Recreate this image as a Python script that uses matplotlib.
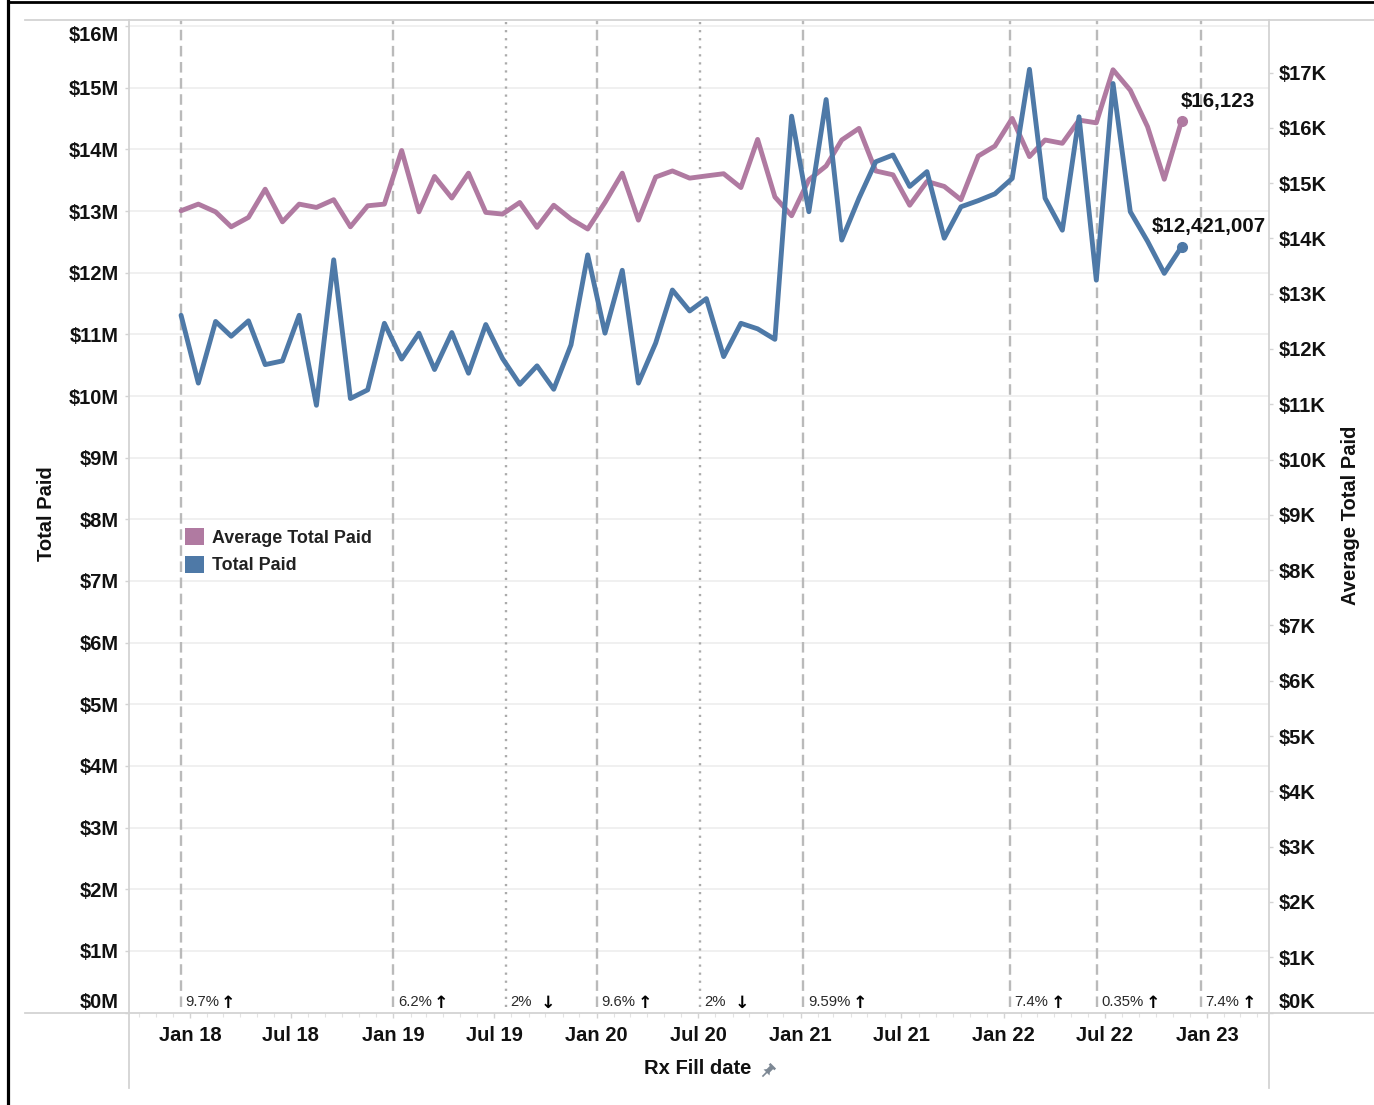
import matplotlib
matplotlib.use("Agg")
import matplotlib.pyplot as plt
import matplotlib.dates as mdates
from matplotlib.lines import Line2D
from matplotlib.patches import Patch, Polygon
from matplotlib.ticker import FixedLocator, FuncFormatter
import numpy as np
import pandas as pd

plt.rcParams["font.family"] = ["Liberation Sans", "DejaVu Sans"]
plt.rcParams["lines.scale_dashes"] = False

# ---------------------------------------------------------------- data
fill_months = pd.date_range("2017-12-01", "2022-11-01", freq="MS")

# Total Paid per month, $M
total_paid_m = [
    11.31, 10.21, 11.21, 10.97, 11.22, 10.51, 10.57, 11.31, 9.85, 12.21,
    9.96, 10.10, 11.18, 10.60, 11.02, 10.43, 11.03, 10.37, 11.16, 10.61,
    10.19, 10.49, 10.11, 10.83, 12.29, 11.02, 12.04, 10.21, 10.86, 11.72,
    11.38, 11.58, 10.64, 11.18, 11.09, 10.92, 14.54, 12.99, 14.81, 12.53,
    13.21, 13.80, 13.91, 13.40, 13.64, 12.56, 13.07, 13.17, 13.28, 13.53,
    15.30, 13.21, 12.69, 14.53, 11.88, 15.07, 12.99, 12.51, 11.99, 12.421007,
]

# Average Total Paid per month, $K
avg_paid_k = [
    14.50, 14.62, 14.48, 14.21, 14.38, 14.89, 14.30, 14.62, 14.56, 14.70,
    14.21, 14.59, 14.62, 15.59, 14.48, 15.12, 14.73, 15.18, 14.47, 14.44,
    14.65, 14.20, 14.60, 14.35, 14.17, 14.65, 15.18, 14.33, 15.11, 15.22,
    15.09, 15.13, 15.17, 14.92, 15.79, 14.75, 14.41, 15.06, 15.31, 15.78,
    15.99, 15.22, 15.15, 14.60, 15.03, 14.94, 14.70, 15.49, 15.67, 16.17,
    15.48, 15.78, 15.72, 16.14, 16.09, 17.05, 16.68, 16.02, 15.07, 16.123,
]

# period markers drawn as vertical reference lines
ref_dates = ["2017-12-15", "2019-01-01", "2019-07-22", "2020-01-01", "2020-07-05",
             "2021-01-06", "2022-01-12", "2022-06-17", "2022-12-21"]
ref_labels = ["9.7%", "6.2%", "2%", "9.6%", "2%", "9.59%", "7.4%", "0.35%", "7.4%"]
ref_dirs = ["up", "up", "down", "up", "down", "up", "up", "up", "up"]

x_tick_dates = pd.date_range("2018-01-01", "2023-01-01", freq="6MS")
left_ticks_m = list(range(0, 17))
right_ticks_k = list(range(0, 18))

# ---------------------------------------------------------------- layout
W, H = 1374, 1105
PT = 0.72  # points per pixel at 100 dpi


def fx(x):
    return x / W


def fy(y):
    return 1 - y / H


BLUE = "#4E79A7"
PINK = "#B07AA1"
FRAME = "#d3d3d3"
GRID = "#efefef"
REF = "#bababa"
TXT = "#111111"

fig = plt.figure(figsize=(W / 100, H / 100), dpi=100)
fig.patch.set_facecolor("white")

ax_l, ax_r, ax_t, ax_b = 128.7, 1269.0, 20.0, 1012.5
ax = fig.add_axes([fx(ax_l), fy(ax_b), (ax_r - ax_l) / W, (ax_b - ax_t) / H])
ax2 = ax.twinx()

# monthly points sit at mid-month on a day-based axis
x = mdates.date2num(fill_months + pd.Timedelta(days=15))
total_paid = np.array(total_paid_m) * 1e6
avg_paid = np.array(avg_paid_k) * 1e3

ax.set_xlim(mdates.date2num(pd.Timestamp("2017-09-13")),
            mdates.date2num(pd.Timestamp("2023-04-22")))
ax.set_ylim(0, 16.1e6)
ax2.set_ylim(0, 17.95e3)

for a in (ax, ax2):
    for s in a.spines.values():
        s.set_visible(False)
ax.patch.set_visible(False)

# horizontal gridlines for the left scale
for v in left_ticks_m:
    if v == 0:
        continue
    ax.axhline(v * 1e6, color=GRID, lw=1.3, zorder=0.5)

# reference lines and their change labels
xform = ax.get_xaxis_transform()
ymin_ref = (ax_b - 1007) / (ax_b - ax_t)
for d, lab, dr in zip(ref_dates, ref_labels, ref_dirs):
    dt = mdates.date2num(pd.Timestamp(d))
    if dr == "down":
        ls = (0, (1.6, 4.2))
        col = "#ababab"
    else:
        ls = (0, (7.6, 4.0))
        col = REF
    ax.axvline(dt, ymin=ymin_ref, ymax=1, color=col, lw=1.7, ls=ls, zorder=1)
    t = ax.annotate(lab, xy=(dt, 0), xycoords=xform,
                    xytext=(4.5 * PT, 10.8 * PT), textcoords="offset points",
                    ha="left", va="center", fontsize=10.7, color="#2a2a2a")
    gap = 6 if dr == "down" else 1.5
    ax.annotate("\u2191" if dr == "up" else "\u2193", xy=(1, 0.5), xycoords=t,
                xytext=(gap, -1.2), textcoords="offset points",
                ha="left", va="center", fontsize=12.5, fontweight="bold",
                color="black", family=["DejaVu Sans"])

# the two series; the average uses the right-hand scale
ax.plot(x, avg_paid, color=PINK, lw=3.5, solid_joinstyle="round",
        solid_capstyle="round", transform=ax2.transData, zorder=2)
ax.plot(x, total_paid, color=BLUE, lw=3.5, solid_joinstyle="round",
        solid_capstyle="round", zorder=3)
ax.plot(x[-1:], avg_paid[-1:], "o", color=PINK, ms=7, transform=ax2.transData, zorder=4)
ax.plot(x[-1:], total_paid[-1:], "o", color=BLUE, ms=7, zorder=4)

ax.annotate(f"${avg_paid[-1]:,.0f}", xy=(x[-1], avg_paid[-1]), xycoords=ax2.transData,
            xytext=(-1 * PT, 20 * PT), textcoords="offset points",
            ha="left", va="center", fontsize=14.8, fontweight="bold", color=TXT, zorder=5)
ax.annotate(f"${total_paid[-1]:,.0f}", xy=(x[-1], total_paid[-1]),
            xytext=(27 * PT, 20.5 * PT), textcoords="offset points",
            ha="center", va="center", fontsize=14.8, fontweight="bold", color=TXT, zorder=5)

# x axis
ax.xaxis.set_major_locator(FixedLocator(mdates.date2num(x_tick_dates)))
ax.xaxis.set_major_formatter(mdates.DateFormatter("%b %y"))
ax.xaxis.set_minor_locator(mdates.MonthLocator())
ax.tick_params(axis="x", which="major", length=5 * PT, width=1, color=FRAME,
               pad=6.3, labelsize=14.5, labelcolor=TXT)
ax.tick_params(axis="x", which="minor", length=4 * PT, width=0.8, color="#e3e3e3")
for lbl in ax.get_xticklabels():
    lbl.set_fontweight("bold")

# left axis
ax.yaxis.set_major_locator(FixedLocator([v * 1e6 for v in left_ticks_m]))
ax.yaxis.set_major_formatter(FuncFormatter(lambda v, p: f"${v / 1e6:.0f}M"))
ax.tick_params(axis="y", length=4 * PT, width=1, color=FRAME, pad=4.4,
               labelsize=14.5, labelcolor=TXT)
for lbl in ax.get_yticklabels():
    lbl.set_fontweight("bold")
    lbl.set_verticalalignment("center_baseline")
yt = ax.yaxis.get_major_ticks()
yt[0].label1.set_verticalalignment("bottom")
yt[-1].label1.set_verticalalignment("top")

# right axis
ax2.yaxis.set_major_locator(FixedLocator([v * 1e3 for v in right_ticks_k]))
ax2.yaxis.set_major_formatter(FuncFormatter(lambda v, p: f"${v / 1e3:.0f}K"))
ax2.tick_params(axis="y", length=4 * PT, width=1, color=FRAME, pad=4.4,
                labelsize=14.5, labelcolor=TXT)
for lbl in ax2.get_yticklabels():
    lbl.set_fontweight("bold")
    lbl.set_verticalalignment("center_baseline")
ax2.yaxis.get_major_ticks()[0].label2.set_verticalalignment("bottom")

# frame lines around the pane
frame_kw = dict(color=FRAME, lw=1.3, transform=fig.transFigure)
fig.add_artist(Line2D([fx(25), 1], [fy(ax_t), fy(ax_t)], **frame_kw))
fig.add_artist(Line2D([fx(25), 1], [fy(ax_b), fy(ax_b)], **frame_kw))
fig.add_artist(Line2D([fx(ax_l), fx(ax_l)], [fy(ax_t), fy(1088)], **frame_kw))
fig.add_artist(Line2D([fx(ax_r), fx(ax_r)], [fy(ax_t), fy(1088)], **frame_kw))

# outer border (left and top)
fig.add_artist(Line2D([fx(7.5), fx(7.5)], [0, fy(1)], color="black", lw=2.3,
                      transform=fig.transFigure, solid_capstyle="projecting"))
fig.add_artist(Line2D([fx(7.5), 1], [fy(2.2), fy(2.2)], color="black", lw=2.0,
                      transform=fig.transFigure, solid_capstyle="projecting"))

# axis titles
fig.text(fx(46), fy(514), "Total Paid", rotation=90, ha="center", va="center",
         fontsize=14.5, fontweight="bold", color=TXT)
fig.text(fx(1350), fy(515), "Average Total Paid", rotation=90, ha="center",
         va="center", fontsize=14.5, fontweight="bold", color=TXT)
fig.text(fx(698), fy(1068), "Rx Fill date", ha="center", va="center",
         fontsize=14.5, fontweight="bold", color=TXT)

# small pushpin icon next to the x-axis title
tip = np.array([763.0, 1076.0])
d = np.array([1.0, -1.0]) / np.sqrt(2)
n = np.array([1.0, 1.0]) / np.sqrt(2)
local = [(5, -4.2), (5, 4.2), (7.5, 2.3), (12, 2.3), (12, 4.0), (14.5, 4.0),
         (14.5, -4.0), (12, -4.0), (12, -2.3), (7.5, -2.3)]
pts = [tip + u * d + v * n for u, v in local]
fig.add_artist(Polygon([(fx(p[0]), fy(p[1])) for p in pts], closed=True,
                       facecolor="#7d8894", edgecolor="none", transform=fig.transFigure))
ntip = tip + 5.5 * d
fig.add_artist(Line2D([fx(tip[0]), fx(ntip[0])], [fy(tip[1]), fy(ntip[1])],
                      color="#7d8894", lw=1.2, transform=fig.transFigure))

# legend
handles = [Patch(facecolor=PINK, edgecolor="none"), Patch(facecolor=BLUE, edgecolor="none")]
leg = ax.legend(handles, ["Average Total Paid", "Total Paid"], loc="upper left",
                bbox_to_anchor=(fx(185), fy(528)), bbox_transform=fig.transFigure,
                frameon=False, borderpad=0, borderaxespad=0, handlelength=1.07,
                handleheight=1.07, handletextpad=0.42, labelspacing=0.52,
                prop={"weight": "bold", "size": 12.9})
for t in leg.get_texts():
    t.set_color("#222222")

fig.savefig("out.png", dpi=100)
